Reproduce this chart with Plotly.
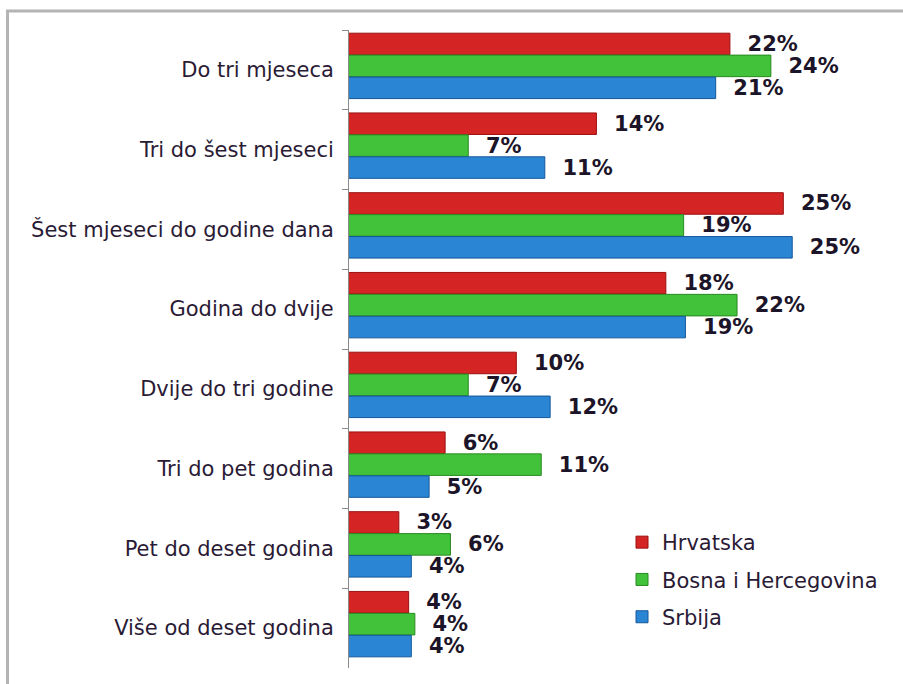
import plotly.graph_objects as go

categories = [
    "Do tri mjeseca",
    "Tri do šest mjeseci",
    "Šest mjeseci do godine dana",
    "Godina do dvije",
    "Dvije do tri godine",
    "Tri do pet godina",
    "Pet do deset godina",
    "Više od deset godina",
]
hrvatska = [21.6, 14.1, 24.6, 18.0, 9.6, 5.6, 3.0, 3.55]
bih = [23.9, 6.9, 19.0, 22.0, 6.9, 11.0, 5.9, 3.9]
srbija = [20.8, 11.2, 25.1, 19.1, 11.5, 4.7, 3.7, 3.7]

series = [
    ("Hrvatska", hrvatska, "#d42424", "#9c1010", -0.46),
    ("Bosna i Hercegovina", bih, "#42c23a", "#2a8a22", -0.185),
    ("Srbija", srbija, "#2a86d4", "#14579a", 0.09),
]

label_color = "#1c1428"
fig = go.Figure()
for name, vals, col, edge, off in series:
    fig.add_trace(go.Bar(
        y=categories, x=vals, name=name, orientation="h",
        marker=dict(color=col, line=dict(color=edge, width=1)),
        width=0.27, offset=off,
        texttemplate="\u00a0\u00a0%{x:.0f}%", textposition="outside",
        constraintext="none", cliponaxis=False,
        textfont=dict(family="DejaVu Sans", size=21, color=label_color, weight="bold"),
        legendgroup=name,
    ))

L, R, T, B = 349, 0, 30, 16
W, H = 903, 684
pw, ph = W - L - R, H - T - B

def px_x(p):
    return (p - L) / pw

def px_y(p):
    return (H - B - p) / ph

fig.update_layout(
    width=W, height=H,
    margin=dict(l=L, r=R, t=T, b=B, pad=0),
    paper_bgcolor="white", plot_bgcolor="white",
    barmode="group",
    showlegend=True,
    legend=dict(
        x=px_x(622), y=px_y(522), xanchor="left", yanchor="top",
        font=dict(family="DejaVu Sans", size=21, color="#2a1a35"),
        tracegroupgap=7, traceorder="grouped", bgcolor="rgba(0,0,0,0)",
    ),
    xaxis=dict(range=[0.2, 0.2 + pw / 17.8], visible=False, showgrid=False, zeroline=False),
    yaxis=dict(
        type="category", range=[7.5, -0.5],
        showline=True, linecolor="#8a8a8a", linewidth=1,
        ticks="outside", tickson="boundaries", ticklen=6, tickcolor="#8a8a8a",
        ticklabelstandoff=10,
        tickfont=dict(family="DejaVu Sans", size=21, color="#2a1a35"),
        showgrid=False, zeroline=False,
    ),
    shapes=[dict(
        type="rect", xref="paper", yref="paper",
        x0=px_x(7.5), x1=1.2, y0=-0.2, y1=px_y(11),
        line=dict(color="#b4b4b4", width=3), fillcolor="rgba(0,0,0,0)", layer="below",
    )],
)

fig.write_html(
    "out.html",
    config={"displayModeBar": False},
    post_script="document.body.style.margin='0';document.body.style.overflow='hidden';",
)
